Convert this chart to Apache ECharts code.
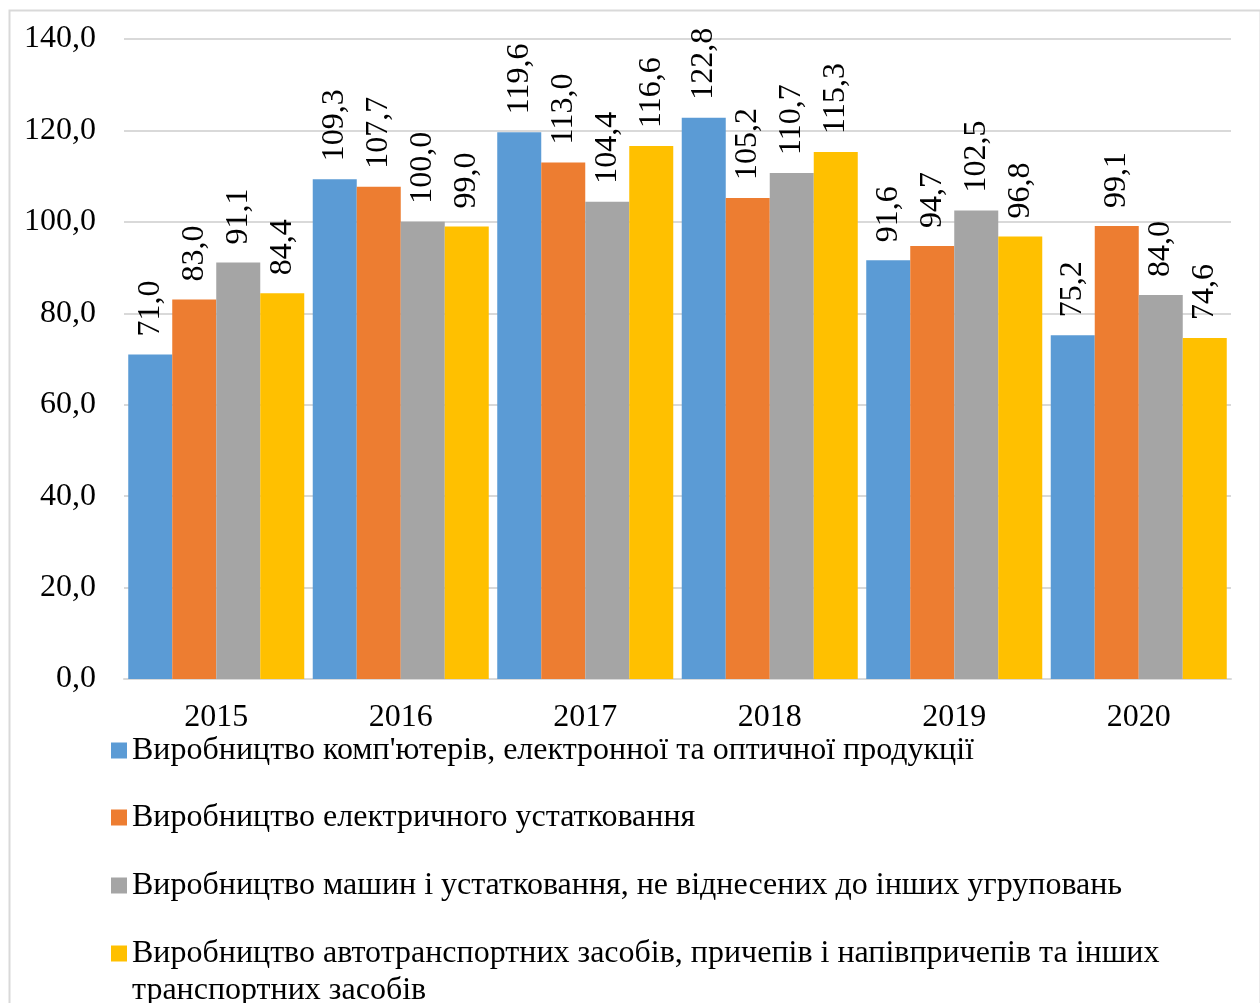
<!DOCTYPE html>
<html>
<head>
<meta charset="utf-8">
<style>
  html, body { margin: 0; padding: 0; background: #ffffff; }
  #chart { width: 1260px; height: 1003px; }
</style>
<script src="https://cdn.jsdelivr.net/npm/echarts@6/dist/echarts.min.js"></script>
</head>
<body>
<div id="chart"></div>
<script>
// Years on the category axis
const years = ['2015', '2016', '2017', '2018', '2019', '2020'];

// Series names
const seriesNames = [
  "Виробництво комп'ютерів, електронної та оптичної продукції",
  'Виробництво електричного устатковання',
  'Виробництво машин і устатковання, не віднесених до інших угруповань',
  'Виробництво автотранспортних засобів, причепів і напівпричепів та інших транспортних засобів'
];

// Index values per year
const computers = [71.0, 109.3, 119.6, 122.8, 91.6, 75.2];
const electrical = [83.0, 107.7, 113.0, 105.2, 94.7, 99.1];
const machinery = [91.1, 100.0, 104.4, 110.7, 102.5, 84.0];
const vehicles = [84.4, 99.0, 116.6, 115.3, 96.8, 74.6];

// Value axis ticks
const yMin = 0;
const yMax = 140;
const yStep = 20;

const colors = ['#5B9BD5', '#ED7D31', '#A5A5A5', '#FFC000'];
const FONT = '"Liberation Serif", "Times New Roman", serif';
const FS = 32;
const LH = 37;

const fmt = v => v.toFixed(1).replace('.', ',');

const seriesData = [computers, electrical, machinery, vehicles];

// Long legend entry wraps before its last word group; a leading empty
// line keeps the first text line level with the colour marker.
const legendText = name => name.includes(' та інших транспортних')
  ? '\n' + name.replace(' та інших транспортних', ' та інших\nтранспортних')
  : name;

const chart = echarts.init(document.getElementById('chart'), null, { renderer: 'canvas' });

// One legend block per series, stacked vertically
const legendTops = [732, 799, 867, 898];
const legends = seriesNames.map((name, i) => ({
  left: 111,
  top: legendTops[i],
  padding: 0,
  orient: 'vertical',
  itemWidth: 16,
  itemHeight: 16,
  icon: 'rect',
  selectedMode: false,
  data: [name],
  formatter: legendText,
  textStyle: {
    fontFamily: FONT,
    fontSize: FS,
    color: '#000',
    lineHeight: LH
  }
}));

chart.setOption({
  animation: false,
  backgroundColor: '#ffffff',
  color: colors,
  graphic: [{
    type: 'rect',
    left: 7,
    top: 8,
    shape: { width: 1251, height: 1010 },
    style: { fill: 'none', stroke: '#d9d9d9', lineWidth: 2 },
    silent: true
  }],
  legend: legends,
  grid: { left: 124, right: 29, top: 39, bottom: 324, containLabel: false },
  xAxis: {
    type: 'category',
    data: years,
    axisLine: { lineStyle: { color: '#d9d9d9', width: 2 } },
    axisTick: { show: false },
    axisLabel: { fontFamily: FONT, fontSize: FS, color: '#000', margin: 23 }
  },
  yAxis: {
    type: 'value',
    min: yMin,
    max: yMax,
    interval: yStep,
    axisLine: { show: false },
    axisTick: { show: false },
    splitLine: { lineStyle: { color: '#d9d9d9', width: 2 } },
    axisLabel: {
      fontFamily: FONT, fontSize: FS, color: '#000', margin: 28,
      formatter: v => fmt(v)
    }
  },
  series: seriesData.map((d, i) => ({
    name: seriesNames[i],
    type: 'bar',
    data: d,
    barGap: '0%',
    barCategoryGap: '4.6%',
    label: {
      show: true,
      position: 'top',
      rotate: 90,
      align: 'left',
      verticalAlign: 'middle',
      distance: 18,
      fontFamily: FONT,
      fontSize: FS,
      color: '#000',
      formatter: p => fmt(p.value)
    }
  }))
});
</script>
</body>
</html>
